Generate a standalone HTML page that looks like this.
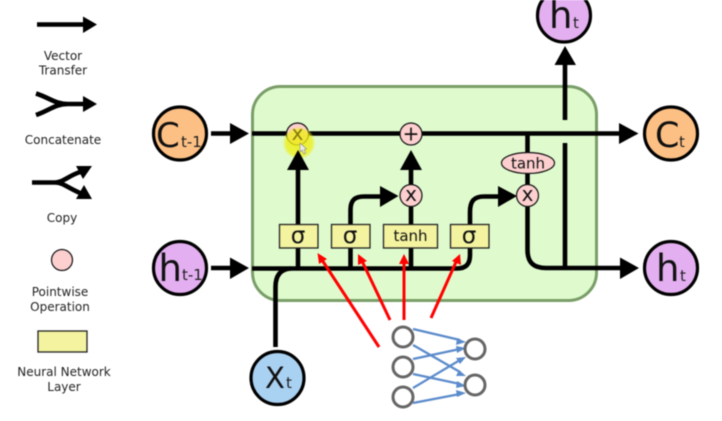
<!DOCTYPE html>
<html><head><meta charset="utf-8"><style>
html,body{margin:0;padding:0;background:#fff;width:722px;height:421px;overflow:hidden}
svg{display:block;filter:blur(.45px)}
text{font-family:"DejaVu Sans","Liberation Sans",sans-serif;fill:#222}
.l{font-size:12px;text-anchor:middle}
.k{fill:none;stroke:#000;stroke-width:4.6}
.h{fill:#000}
.big{stroke:#000;stroke-width:3.2}
.op{fill:#fdcfcf;stroke:#111;stroke-width:1.2}
.nn{fill:#f3f3a0;stroke:#222;stroke-width:1.3}
.g{fill:#fff;stroke:#666;stroke-width:3}
.b{stroke:#5b8bcb;stroke-width:2.2;fill:none}
.bh{fill:#5b8bcb}
.r{stroke:#f00;stroke-width:3;fill:none}
.rh{fill:#f00}
.sg{font-size:23px;text-anchor:middle;fill:#111}
.x{font-size:20px;text-anchor:middle;fill:#111}
.t{font-size:15px;text-anchor:middle;fill:#111}
.sub{font-size:15px;fill:#222}
</style></head><body>
<svg width="722" height="421" viewBox="0 0 722 421" xmlns="http://www.w3.org/2000/svg">
<defs><radialGradient id="glow"><stop offset="0" stop-color="#eeee10" stop-opacity=".85"/><stop offset=".8" stop-color="#eeee10" stop-opacity=".75"/><stop offset="1" stop-color="#eeee10" stop-opacity=".15"/></radialGradient></defs>
<!-- legend -->
<path class="k" d="M37 24.5H84"/><path class="h" d="M83 16.5L97 24.5L83 33Z"/>
<text class="l" x="63" y="60">Vector</text><text class="l" x="63" y="74.500">Transfer</text>
<path class="k" d="M36 93.500C50 98 55 104 68 104H84M36 115C50 110 55 104 68 104"/><path class="h" d="M83 96L97 104L83 112Z"/>
<text class="l" x="63" y="144">Concatenate</text>
<path class="k" d="M32 182.500H55C63 182.500 68 176 80 172M55 182.500C63 182.500 68 188 80 193"/>
<path class="h" d="M76 166H92L83 179ZM92 199H76L84 185Z"/>
<text class="l" x="62" y="222">Copy</text>
<circle class="op" cx="62" cy="260" r="10.500"/>
<text class="l" x="60" y="296">Pointwise</text><text class="l" x="60" y="311">Operation</text>
<rect class="nn" x="38" y="331" width="49" height="21"/>
<text class="l" x="64" y="376">Neural Network</text><text class="l" x="64" y="391">Layer</text>
<!-- cell -->
<rect x="252.500" y="86.500" width="344" height="214" rx="28" fill="#dffbce" stroke="#7a9e68" stroke-width="3"/>
<!-- lines -->
<path class="k" d="M211 133.500H231M211 268H231"/>
<path class="h" d="M230 123L249 133.500L230 144ZM230 257.500L249 268L230 279Z"/>
<path class="k" d="M252 133.500H620M252 268.500H457C466 268.500 470 264 470 255V248"/>
<path class="h" d="M619 123L638.500 133.500L619 144ZM620 257.500L639 268L620 279Z"/>
<path class="k" d="M275.500 347V287C275.500 276 280 269 291 268.500"/>
<path class="k" d="M298 268V248M298 224V168"/>
<path class="k" d="M350.500 268V248M350.500 224V210C350.500 200 355 196.500 364 196.500H381"/><path class="h" d="M380 186L398.500 196L380 207Z"/>
<path class="k" d="M411 268V248M411 224V168"/><path class="h" d="M400 170L411 150L422 170Z"/>
<path class="k" d="M470 224V212C470 201 474 196.500 484 196.500H499"/><path class="h" d="M498 186L517 196L498 207Z"/>
<path class="k" d="M527.500 133V250C527.500 262 533 268 546 268H621"/>
<path class="k" d="M565 143V268M565 120V63"/><path class="h" d="M554.500 65L565 46L576 65Z"/>
<!-- ops -->
<circle class="op" cx="297.500" cy="134" r="11"/>
<circle cx="299" cy="143" r="16" fill="url(#glow)"/>
<path class="h" d="M287 170L298 150L309 170Z"/>
<text class="x" x="297.500" y="140" style="fill:#857a10">x</text>
<path d="M300 143L300 152L302 150L304 154L305.500 153L304 149.500L306.500 149Z" fill="#eee" stroke="#888" stroke-width=".6"/>
<circle class="op" cx="411" cy="134" r="11"/>
<text class="x" x="411" y="140.500">+</text>
<circle class="op" cx="411" cy="195.500" r="11"/>
<text class="x" x="411" y="201">x</text>
<ellipse class="op" cx="528" cy="163" rx="26.500" ry="10.500"/>
<text class="t" x="528" y="168.500">tanh</text>
<circle class="op" cx="527.500" cy="195.500" r="11"/>
<text class="x" x="527.500" y="201">x</text>
<!-- nn boxes -->
<rect class="nn" x="279.500" y="224.500" width="38.500" height="23.500"/>
<text class="sg" x="298" y="243">σ</text>
<rect class="nn" x="331.500" y="224.500" width="38.500" height="23.500"/>
<text class="sg" x="350" y="243">σ</text>
<rect class="nn" x="383.500" y="224.500" width="54" height="23.500"/>
<text class="t" x="410.500" y="241">tanh</text>
<rect class="nn" x="450.500" y="224.500" width="38.500" height="23.500"/>
<text class="sg" x="469" y="243">σ</text>
<!-- states -->
<circle cx="180" cy="133.500" r="26.500" fill="#fdc084" class="big"/>
<text x="156" y="147" font-size="34" style="fill:#111">C</text><text class="sub" x="181" y="147">t-1</text>
<circle cx="180" cy="268" r="26.500" fill="#e3aff0" class="big"/>
<text x="158.500" y="281" font-size="37" style="fill:#111">h</text><text class="sub" x="182" y="280">t-1</text>
<circle cx="277.500" cy="378" r="26.500" fill="#a9d1f2" class="big"/>
<text x="265" y="388" font-size="29" style="fill:#111">X</text><text class="sub" x="286" y="388">t</text>
<circle cx="564" cy="15.500" r="26.500" fill="#e3aff0" class="big"/>
<text x="549" y="28" font-size="37" style="fill:#111">h</text><text class="sub" x="573" y="28">t</text>
<circle cx="671" cy="133.500" r="26.500" fill="#fdc084" class="big"/>
<text x="655" y="147" font-size="35" style="fill:#111">C</text><text class="sub" x="679" y="147">t</text>
<circle cx="671" cy="268" r="26.500" fill="#e3aff0" class="big"/>
<text x="656" y="281" font-size="37" style="fill:#111">h</text><text class="sub" x="680" y="281">t</text>
<!-- red arrows -->
<path class="r" d="M379 347L322 260M390 320L362 261M404 320V262M431 318L456 262"/>
<path class="rh" d="M317.500 253L327 259L319 264ZM358 254L367 261L358 265ZM404 254L409 264H399ZM460 254L461 265L452 261Z"/>
<!-- network -->
<path class="b" d="M413 329L460 340M413 345L460 372M413 359L460 349M413 374L460 384M413 388L460 360M413 403L460 394"/>
<path class="bh" d="M466 342L456 345L457 338ZM466 376L456 376L459 370ZM466 348L457 353L456 346ZM466 386L456 388L457 381ZM466 357L460 364L456 358ZM466 393L457 397L456 390Z"/>
<circle class="g" cx="403" cy="337" r="10"/>
<circle class="g" cx="403" cy="367" r="10"/>
<circle class="g" cx="403" cy="397" r="10"/>
<circle class="g" cx="475" cy="349" r="10"/>
<circle class="g" cx="475" cy="385" r="10"/>
</svg>
</body></html>
